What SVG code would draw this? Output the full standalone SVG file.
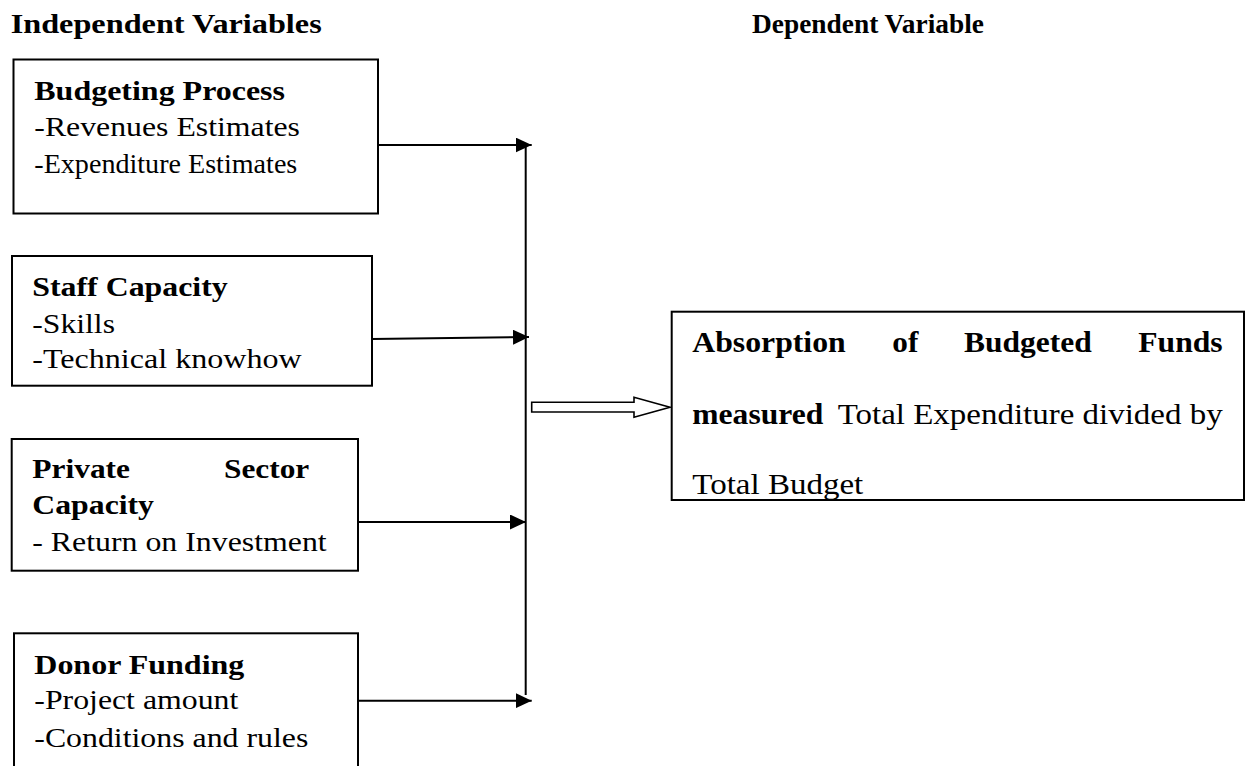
<svg xmlns="http://www.w3.org/2000/svg" width="1250" height="766" viewBox="0 0 1250 766">
<style>
text{font-family:'Liberation Serif','Times New Roman',Times,serif;fill:#000}
.h{font-size:27px;font-weight:bold}
.b{font-size:27px;font-weight:bold}
.r{font-size:27px}
.tb{font-size:29.7px;font-weight:bold}
.tr{font-size:29.7px}
.box{fill:#fff;stroke:#000;stroke-width:2}
.ln{fill:none;stroke:#000;stroke-width:2}
</style>
<defs>
<marker id="ah" markerUnits="userSpaceOnUse" markerWidth="16" markerHeight="15" refX="16" refY="7.5" orient="auto">
<path d="M0,0 L16,7.5 L0,15 z" fill="#000"/>
</marker>
</defs>
<rect width="1250" height="766" fill="#fff"/>
<g id="headers">
<text class="h" x="10.7" y="33.3" textLength="311" lengthAdjust="spacingAndGlyphs">Independent Variables</text>
<text class="h" x="752" y="33.3" textLength="232" lengthAdjust="spacingAndGlyphs">Dependent Variable</text>
</g>
<g id="connectors">
<line class="ln" x1="525.7" y1="145" x2="525.7" y2="695"/>
<line class="ln" x1="372" y1="145" x2="531.7" y2="145" marker-end="url(#ah)"/>
<line class="ln" x1="372" y1="339" x2="529" y2="337" marker-end="url(#ah)"/>
<line class="ln" x1="358" y1="522" x2="526" y2="522" marker-end="url(#ah)"/>
<line class="ln" x1="358" y1="700.7" x2="531.7" y2="700.7" marker-end="url(#ah)"/>
<polygon points="531.7,402.3 634,402.3 634,397.3 670,407.3 634,417.3 634,412 531.7,412" fill="#fff" stroke="#000" stroke-width="1.6"/>
</g>
<g id="budgeting">
<rect class="box" x="13.5" y="59.5" width="364.5" height="154"/>
<text class="b" x="34.3" y="100" textLength="250.7" lengthAdjust="spacingAndGlyphs">Budgeting Process</text>
<text class="r" x="34.3" y="136" textLength="265.7" lengthAdjust="spacingAndGlyphs">-Revenues Estimates</text>
<text class="r" x="34.3" y="173" textLength="263" lengthAdjust="spacingAndGlyphs">-Expenditure Estimates</text>
</g>
<g id="staff">
<rect class="box" x="12" y="256" width="360" height="129.7"/>
<text class="b" x="32.3" y="296" textLength="195.4" lengthAdjust="spacingAndGlyphs">Staff Capacity</text>
<text class="r" x="32.3" y="332.7" textLength="82.7" lengthAdjust="spacingAndGlyphs">-Skills</text>
<text class="r" x="32.3" y="368.3" textLength="269.4" lengthAdjust="spacingAndGlyphs">-Technical knowhow</text>
</g>
<g id="private">
<rect class="box" x="11.7" y="439" width="346.3" height="131.7"/>
<text class="b" x="32.3" y="478.3" textLength="97.7" lengthAdjust="spacingAndGlyphs">Private</text>
<text class="b" x="224" y="478.3" textLength="85.3" lengthAdjust="spacingAndGlyphs">Sector</text>
<text class="b" x="32.3" y="514" textLength="121.7" lengthAdjust="spacingAndGlyphs">Capacity</text>
<text class="r" x="32.3" y="550.7" textLength="294.4" lengthAdjust="spacingAndGlyphs">- Return on Investment</text>
</g>
<g id="donor">
<rect class="box" x="14" y="633.3" width="344" height="150"/>
<text class="b" x="34.3" y="674" textLength="210" lengthAdjust="spacingAndGlyphs">Donor Funding</text>
<text class="r" x="34.3" y="709.3" textLength="204" lengthAdjust="spacingAndGlyphs">-Project amount</text>
<text class="r" x="34.3" y="746.7" textLength="274" lengthAdjust="spacingAndGlyphs">-Conditions and rules</text>
</g>
<g id="absorption">
<rect class="box" x="671.7" y="311.7" width="572.3" height="188.3"/>
<text class="tb" x="692.3" y="351.7" textLength="153.4" lengthAdjust="spacingAndGlyphs">Absorption</text>
<text class="tb" x="892.3" y="351.7" textLength="26" lengthAdjust="spacingAndGlyphs">of</text>
<text class="tb" x="964" y="351.7" textLength="127.7" lengthAdjust="spacingAndGlyphs">Budgeted</text>
<text class="tb" x="1138.3" y="351.7" textLength="84.4" lengthAdjust="spacingAndGlyphs">Funds</text>
<text class="tb" x="692.3" y="424" textLength="131" lengthAdjust="spacingAndGlyphs">measured</text>
<text class="tr" x="837.7" y="424" textLength="385" lengthAdjust="spacingAndGlyphs">Total Expenditure divided by</text>
<text class="tr" x="692.3" y="494" textLength="171" lengthAdjust="spacingAndGlyphs">Total Budget</text>
</g>
</svg>
